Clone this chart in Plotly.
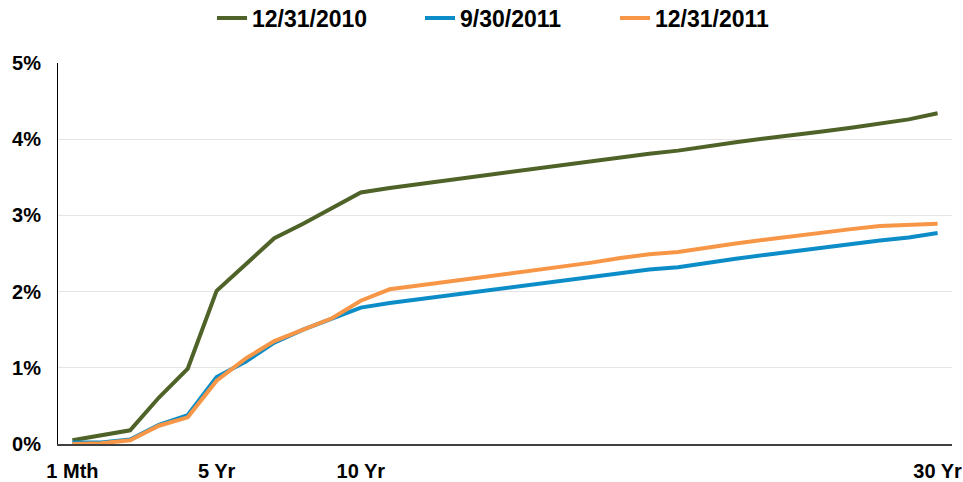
import plotly.graph_objects as go

categories = (["1 Mth", "3 Mth", "6 Mth", "2 Yr", "3 Yr"]
              + [f"{n} Yr" for n in range(5, 31)])
series_names = ["12/31/2010", "9/30/2011", "12/31/2011"]
y_2010_12 = [0.05, 0.12, 0.18, 0.61, 0.99, 2.01, 2.36, 2.70, 2.89, 3.10, 3.30,
             3.36, 3.41, 3.47, 3.51, 3.57, 3.61, 3.66, 3.71, 3.76, 3.81,
             3.85, 3.91, 3.96, 4.01, 4.05, 4.10, 4.15, 4.20, 4.26, 4.34]
y_2011_09 = [0.02, 0.02, 0.06, 0.25, 0.38, 0.88, 1.08, 1.33, 1.50, 1.64, 1.79,
             1.85, 1.90, 1.94, 2.00, 2.04, 2.10, 2.14, 2.19, 2.24, 2.29,
             2.32, 2.38, 2.43, 2.48, 2.53, 2.58, 2.63, 2.67, 2.71, 2.77]
y_2011_12 = [0.00, 0.01, 0.05, 0.24, 0.35, 0.83, 1.12, 1.35, 1.50, 1.65, 1.88,
             2.03, 2.08, 2.13, 2.18, 2.23, 2.27, 2.33, 2.38, 2.44, 2.49,
             2.52, 2.58, 2.63, 2.68, 2.73, 2.78, 2.82, 2.86, 2.88, 2.89]
x_tick_labels = ["1 Mth", "5 Yr", "10 Yr", "30 Yr"]
y_tick_vals = [0, 1, 2, 3, 4, 5]
y_tick_labels = ["0%", "1%", "2%", "3%", "4%", "5%"]

colors = ["#4F6228", "#0C8DC8", "#F79646"]
all_series = [y_2010_12, y_2011_09, y_2011_12]
legend_ids = ["legend", "legend2", "legend3"]

FONT = "Liberation Sans, Arial, sans-serif"

fig = go.Figure()
for name, ys, c, lg in zip(series_names, all_series, colors, legend_ids):
    fig.add_trace(go.Scatter(
        x=categories, y=ys, name=name, mode="lines",
        line=dict(color=c, width=4), legend=lg,
    ))

W, H = 963, 482
ml, mr, mt, mb = 58, 11, 62.5, 37.5
sample_starts = [217, 425, 620]

def legend_cfg(sx):
    return dict(
        orientation="h", xref="container", yref="container",
        x=(sx - 5) / W, xanchor="left",
        y=1 - 18 / H, yanchor="middle",
        font=dict(family=FONT, size=23, color="#000000", weight="bold"),
        bgcolor="rgba(0,0,0,0)", borderwidth=0,
    )

fig.update_layout(
    width=W, height=H,
    margin=dict(l=ml, r=mr, t=mt, b=mb, pad=0, autoexpand=False),
    paper_bgcolor="white", plot_bgcolor="white",
    showlegend=True,
    legend=legend_cfg(sample_starts[0]),
    legend2=legend_cfg(sample_starts[1]),
    legend3=legend_cfg(sample_starts[2]),
    font=dict(family=FONT, size=20, color="#000000", weight="bold"),
)
fig.update_xaxes(
    type="category", categoryorder="array", categoryarray=categories,
    range=[-0.5, len(categories) - 0.5],
    tickmode="array", tickvals=x_tick_labels, ticktext=x_tick_labels,
    showgrid=False, zeroline=False,
    showline=True, linecolor="#404040", linewidth=1.5,
    ticks="", ticklabelstandoff=8,
    tickfont=dict(family=FONT, size=20, color="#000000", weight="bold"),
)
fig.update_yaxes(
    range=[0, 5], tickmode="array", tickvals=y_tick_vals, ticktext=y_tick_labels,
    showgrid=True, gridcolor="#E8E4E4", gridwidth=1, zeroline=False,
    showline=True, linecolor="#000000", linewidth=1,
    ticks="", ticklabelstandoff=12,
    tickfont=dict(family=FONT, size=20, color="#000000", weight="bold"),
)
fig.write_html(
    "out.html",
    config={"displayModeBar": False},
    post_script="document.body.style.margin='0';document.body.style.padding='0';",
)
